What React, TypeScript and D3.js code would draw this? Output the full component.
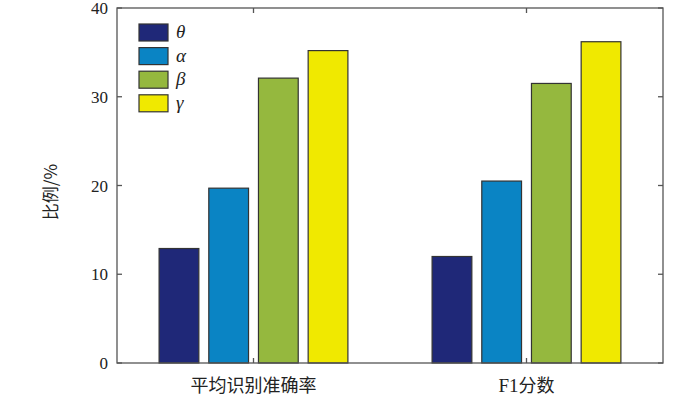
import React from "react";
import * as d3 from "d3";

const categories = ["平均识别准确率", "F1分数"];
const seriesNames = ["θ", "α", "β", "γ"];
const seriesValues: number[][] = [
  [12.9, 12.0],
  [19.7, 20.5],
  [32.1, 31.5],
  [35.2, 36.2],
];
const seriesColors = ["#1f2878", "#0a84c4", "#95b83e", "#f0e900"];
const yTicks = [0, 10, 20, 30, 40];

const W = 700;
const H = 397;
const L = 117, R = 663, T = 8, B = 363;
const SERIF = "'Liberation Serif', 'Times New Roman', 'DejaVu Serif', serif";
const CJK = "'Noto Sans CJK SC', sans-serif";

function CatLabel({ text }: { text: string }) {
  const parts = text.match(/[A-Za-z0-9]+|[^A-Za-z0-9]+/g) || [];
  return (
    <>
      {parts.map((p, i) => (
        <tspan key={i} fontFamily={/[A-Za-z0-9]/.test(p) ? SERIF : CJK} fontSize={/[A-Za-z0-9]/.test(p) ? 19 : 18}>{p}</tspan>
      ))}
    </>
  );
}

export default function App() {
  const x = d3.scaleBand<string>().domain(categories).range([L, R]).paddingInner(0.272).paddingOuter(0.136);
  const xi = d3.scaleBand<string>().domain(seriesNames).range([0, x.bandwidth()]).paddingInner(0.2).paddingOuter(0.1);
  const y = d3.scaleLinear().domain([0, 40]).range([B, T]);
  const axisColor = "#555";
  const tickLen = 5;
  return (
    <svg width={W} height={H} style={{ position: "absolute", left: 0, top: 0, background: "#fff" }}>
      {seriesNames.map((s, si) =>
        categories.map((c, ci) => {
          const v = seriesValues[si][ci];
          return (
            <rect key={s + c} x={(x(c) ?? 0) + (xi(s) ?? 0)} y={y(v)} width={xi.bandwidth()} height={y(0) - y(v)}
              fill={seriesColors[si]} stroke="#333" strokeWidth={1.2} />
          );
        })
      )}
      <rect x={L} y={T} width={R - L} height={B - T} fill="none" stroke={axisColor} strokeWidth={1.3} />
      {yTicks.map((t) => (
        <g key={t}>
          <line x1={L} x2={L + tickLen} y1={y(t)} y2={y(t)} stroke={axisColor} strokeWidth={1.3} />
          <line x1={R} x2={R - tickLen} y1={y(t)} y2={y(t)} stroke={axisColor} strokeWidth={1.3} />
          <text x={L - 9} y={y(t) + 6} textAnchor="end" fontFamily={SERIF} fontSize={17} fill="#222">{t}</text>
        </g>
      ))}
      {categories.map((c) => {
        const cx = (x(c) ?? 0) + x.bandwidth() / 2;
        return (
          <g key={c}>
            <line x1={cx} x2={cx} y1={B} y2={B - tickLen} stroke={axisColor} strokeWidth={1.3} />
            <line x1={cx} x2={cx} y1={T} y2={T + tickLen} stroke={axisColor} strokeWidth={1.3} />
            <text x={cx} y={392} textAnchor="middle" fill="#222"><CatLabel text={c} /></text>
          </g>
        );
      })}
      <text transform={`translate(57,192) rotate(-90)`} textAnchor="middle" fontFamily={CJK} fontSize={17} fill="#222">比例/%</text>
      {seriesNames.map((s, i) => (
        <g key={s}>
          <rect x={139} y={24 + i * 23.6} width={29} height={17} fill={seriesColors[i]} stroke="#333" strokeWidth={1.2} />
          <text x={176} y={38 + i * 23.6} fontFamily={SERIF} fontStyle="italic" fontSize={19} fill="#222">{s}</text>
        </g>
      ))}
    </svg>
  );
}
